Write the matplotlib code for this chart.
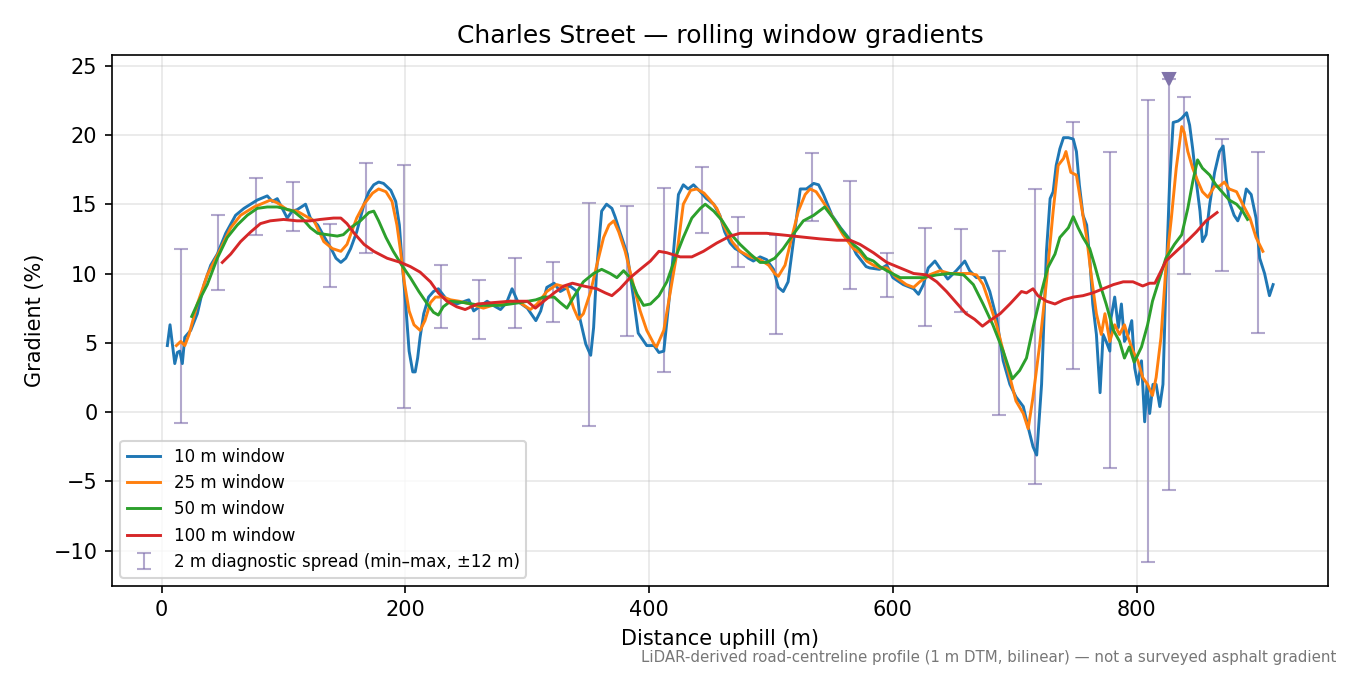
import numpy as np
import matplotlib
matplotlib.use('Agg')
import matplotlib.pyplot as plt

# distance uphill (m) and gradient (%)
d10 = [4.6, 6.8, 10.7, 12.8, 14.8, 16.9, 18.9, 23.8, 29.2, 34.7, 40.2, 45.6, 52.5, 60.6, 67.5, 72.9,
       78.4, 86.6, 90.7, 94.8, 98.9, 103, 107, 111, 118, 122, 128, 133, 139, 143, 147, 151, 155, 160,
       166, 170, 174, 178, 182, 188, 192, 195, 197, 200, 203, 206, 208, 210, 212, 215, 219, 223, 227,
       234, 242, 252, 256, 267, 272, 278, 283, 287.5, 292, 300, 307, 311, 316, 322, 327, 335, 341, 343,
       348, 352, 354.4, 357, 361, 365, 369.4, 372, 376, 382, 387, 391, 398, 404, 408, 412, 416, 420,
       424, 428, 432, 436.4, 442, 447, 453, 458, 462, 466.4, 470.5, 474.6, 481.4, 485.5, 491, 496.4,
       502, 506, 510, 514, 518, 524, 529, 535, 539, 543, 550, 557, 563.4, 570, 578, 581, 589, 595, 600,
       608.5, 617, 621, 625, 629, 634.5, 640, 645, 652, 659, 663, 668.6, 675, 679.5, 685, 690.5, 696,
       701, 707, 711, 715, 718, 722, 726, 729, 731.5, 734, 737, 740, 744, 748, 750.6, 753, 756, 759,
       761.5, 764, 767, 770, 772.5, 775, 778, 779, 782, 785, 787.5, 790, 793, 796, 798.4, 801, 804,
       806.6, 808.5, 810.7, 813.4, 816, 819, 821.6, 824, 827, 830, 834, 837, 841, 843.5, 846, 849, 852,
       854, 857, 860, 864, 868, 871, 873.5, 876, 880, 883, 887, 890, 894, 898, 901, 905, 909, 912]
g10 = [4.8, 6.3, 3.5, 4.3, 4.4, 3.5, 5.4, 5.9, 7.1, 9.2, 10.6, 11.4, 12.9, 14.2, 14.7, 15.0,
       15.3, 15.6, 15.2, 15.4, 14.7, 14.0, 14.5, 14.6, 15.0, 14.0, 13.5, 12.7, 11.8, 11.1, 10.8, 11.1, 11.8, 13.0,
       15.0, 15.9, 16.4, 16.6, 16.5, 16.0, 15.2, 13.5, 11.1, 8.0, 4.4, 2.9, 2.9, 3.9, 5.4, 7.1, 8.3, 8.7, 8.9,
       8.1, 7.8, 8.1, 7.3, 8.0, 7.7, 7.4, 7.9, 8.9, 8.0, 7.5, 6.6, 7.3, 9.0, 9.3, 8.7, 9.1, 8.7, 6.8,
       4.9, 4.1, 6.1, 10.4, 14.5, 15.0, 14.7, 14.1, 13.0, 11.4, 8.3, 5.7, 4.8, 4.8, 4.3, 4.4, 7.8, 11.6,
       15.7, 16.4, 16.1, 16.4, 15.9, 15.4, 15.0, 14.2, 13.0, 12.2, 11.8, 11.6, 11.1, 10.9, 11.2, 11.0,
       10.3, 9.0, 8.7, 9.4, 12.1, 16.1, 16.1, 16.5, 16.4, 15.7, 14.2, 13.3, 12.6, 11.4, 10.5, 10.4, 10.3, 10.6, 9.7,
       9.2, 8.9, 8.5, 9.2, 10.4, 10.9, 10.2, 9.6, 10.2, 10.9, 10.2, 9.7, 9.7, 8.7, 6.8, 3.7, 2.0,
       1.1, 0.4, -1.1, -2.5, -3.1, 2.0, 11.6, 15.4, 15.9, 17.8, 19.0, 19.8, 19.8, 19.7, 18.8, 16.4, 14.2, 13.5,
       11.1, 7.8, 5.6, 1.4, 5.6, 5.1, 4.4, 6.8, 8.3, 6.1, 7.8, 5.1, 5.6, 6.6, 3.2, 2.0, 3.7,
       -0.7, 2.0, -0.1, 2.0, 2.0, 0.4, 2.0, 9.2, 16.4, 20.9, 21.0, 21.2, 21.6, 20.7, 19.0, 16.6, 14.5,
       12.3, 12.8, 15.0, 17.3, 18.8, 19.2, 16.9, 15.2, 14.2, 13.8, 14.7, 16.1, 15.7, 14.0, 11.1, 10.0, 8.4, 9.2]

d25 = [12, 15.6, 18.9, 22.4, 29.2, 37.4, 48.4, 56.6, 64.7, 75.7, 83.9, 89.3, 94.8, 103, 111, 119, 125,
       133, 140, 147, 152, 160, 166, 173, 178, 184, 189, 193, 196, 199, 203, 207, 212, 216, 220.5, 224.6,
       231, 237, 244, 253, 264, 275, 286, 294, 302.5, 308, 316, 324, 332.5, 338, 342, 346, 352, 357,
       362.6, 367, 371, 375, 380.3, 387, 392.6, 398, 404, 406, 412, 417, 423, 428, 434, 439, 445, 450,
       455.5, 461, 468, 474.6, 483, 491, 498, 503, 506, 511.5, 517, 522.4, 528, 532, 537, 544, 551, 559,
       567.5, 573, 578.4, 584, 589.3, 595, 603, 611, 617, 622, 630, 638.6, 647, 655, 663, 668.6, 674,
       679.5, 685, 690.5, 696, 701, 707, 711, 715, 720.5, 726, 731.5, 735.6, 740, 742, 746, 750.6, 755,
       759, 763, 767, 771, 774, 778, 782, 786, 790, 793, 797, 801, 805, 809, 813, 816, 820, 824, 828.5,
       832.5, 837, 839, 842, 846, 850, 854, 858.5, 864, 868, 872, 876, 882, 887, 893, 898, 903.6]
g25 = [4.8, 5.1, 4.8, 5.6, 7.8, 9.9, 11.8, 13.3, 14.2, 14.8, 15.1, 15.3, 15.1, 14.6, 14.5, 14.1, 13.8,
       12.3, 11.8, 11.6, 12.1, 14.0, 15.0, 15.8, 16.1, 15.9, 15.2, 13.5, 11.6, 9.4, 7.3, 6.3, 5.9, 6.6, 7.9, 8.3,
       8.3, 8.1, 8.0, 7.8, 7.5, 7.8, 8.0, 7.9, 7.4, 7.8, 8.7, 9.2, 9.0, 7.5, 6.7, 7.1, 8.7, 10.6,
       12.6, 13.5, 13.8, 13.0, 11.6, 9.2, 7.3, 5.9, 4.9, 4.7, 5.9, 8.5, 11.6, 15.0, 16.0, 16.1, 15.8, 15.3,
       14.7, 13.5, 12.3, 11.6, 11.2, 11.0, 10.6, 10.0, 9.8, 10.6, 12.6, 14.5, 15.7, 16.1, 15.9, 15.0, 14.0, 12.8,
       11.8, 11.5, 10.9, 10.6, 10.4, 10.4, 9.7, 9.2, 9.0, 9.4, 9.9, 10.2, 10.0, 10.0, 10.0, 9.9, 9.2,
       7.8, 6.3, 4.4, 2.5, 0.8, -0.1, -1.2, 1.1, 4.9, 9.4, 14.5, 17.8, 18.3, 18.8, 17.3, 17.1, 14.7,
       12.6, 9.7, 7.1, 5.6, 7.1, 5.1, 6.3, 5.6, 6.3, 5.4, 4.4, 3.7, 2.5, 2.0, 1.2, 2.5, 5.4, 10.4, 14.0,
       17.6, 20.6, 20.2, 18.8, 17.6, 16.7, 15.9, 15.5, 16.3, 16.3, 16.6, 16.1, 15.9, 15.0, 14.0, 12.6, 11.6]

d50 = [24.6, 29.2, 37.4, 45.6, 53.8, 62, 70.2, 78.4, 86.6, 94.8, 100, 108, 115, 122, 128, 136, 144,
       149, 155, 163, 170, 174, 178, 184, 190, 197, 204, 211, 218, 223, 227, 231, 237, 248, 261.5, 278,
       294, 307, 313.4, 322, 327, 332.5, 338, 346, 354.4, 361, 368, 373.5, 379, 384.4, 390, 395.4, 401,
       408, 414.5, 421.3, 428, 435, 442, 446, 453, 460, 466.4, 474.6, 483, 491, 496.4, 503, 510, 518,
       526.5, 535, 544, 551, 559, 567.5, 573, 578.4, 584, 589.3, 595, 606, 614, 625, 636, 647, 658, 666,
       674, 682, 690.5, 698, 704, 709.6, 715, 722, 727, 733, 737, 741, 744, 748, 752, 756, 761.5, 765.6,
       770, 775, 781, 786, 790, 794, 798, 804, 809, 813, 819, 824, 831, 837, 842, 846, 850, 854, 860,
       865, 871, 876, 882, 887, 891]
g50 = [6.9, 7.8, 9.2, 11.1, 12.6, 13.5, 14.2, 14.7, 14.8, 14.8, 14.7, 14.5, 14.0, 13.3, 12.9, 12.8, 12.7,
       12.8, 13.3, 13.8, 14.4, 14.5, 13.8, 12.6, 11.6, 10.6, 9.7, 8.7, 7.8, 7.2, 7.0, 7.6, 8.0, 7.9, 7.7, 7.7,
       7.9, 8.1, 8.3, 8.3, 7.9, 7.5, 8.3, 9.4, 10.0, 10.3, 10.0, 9.7, 10.2, 9.7, 8.5, 7.7, 7.8,
       8.4, 9.4, 11.1, 12.6, 14.0, 14.7, 15.0, 14.5, 13.8, 12.9, 12.1, 11.4, 10.8, 10.8, 11.1, 11.8, 12.8,
       13.8, 14.2, 14.8, 14.0, 13.0, 12.1, 11.7, 11.1, 10.9, 10.5, 10.2, 9.7, 9.7, 9.7, 9.9, 10.0, 9.9, 9.2,
       7.8, 6.3, 4.4, 2.4, 3.0, 3.9, 6.1, 8.7, 10.4, 11.4, 12.6, 13.0, 13.3, 14.1, 13.3, 12.6, 11.8, 10.6,
       9.2, 7.8, 5.9, 5.1, 3.9, 4.7, 3.6, 4.7, 6.3, 8.0, 9.7, 11.1, 12.1, 12.8, 14.7, 16.6, 18.2, 17.6, 17.1,
       16.4, 15.8, 15.3, 15.0, 14.5, 13.9]

d100 = [49.7, 56.6, 64.7, 73, 81, 89, 100, 111, 122, 130, 141, 147, 152, 158, 166, 174, 185, 196, 204,
        212, 220.5, 227, 234, 242, 249, 259, 272, 286, 300, 306.6, 313.4, 322, 330, 337, 346, 357, 364,
        369.4, 376, 384.4, 392.6, 401, 408, 414.5, 425.4, 435, 444.5, 455.5, 466.4, 474.6, 485.5, 496.4,
        507.4, 518.3, 529, 540, 554, 565, 573, 584, 595, 606, 617, 627.6, 636, 644, 652, 660, 667, 673.5,
        679.5, 688, 696, 705.5, 709.6, 715, 719, 726, 733, 740, 748, 756, 764, 772.5, 781, 789, 797, 805,
        810.7, 815, 819, 824, 832.5, 841, 849, 857, 866]
g100 = [10.8, 11.4, 12.3, 13.0, 13.6, 13.8, 13.9, 13.8, 13.8, 13.9, 14.0, 14.0, 13.6, 12.9, 12.1, 11.6, 11.1, 10.8, 10.5,
        10.1, 9.4, 8.6, 8.0, 7.6, 7.4, 7.8, 7.9, 8.0, 8.0, 7.5, 8.0, 8.6, 9.1, 9.3, 9.1, 8.9, 8.6,
        8.4, 8.9, 9.7, 10.3, 10.9, 11.6, 11.5, 11.2, 11.2, 11.6, 12.2, 12.7, 12.9, 12.9, 12.9,
        12.8, 12.7, 12.6, 12.5, 12.4, 12.4, 12.1, 11.5, 10.8, 10.4, 10.0, 9.9, 9.4, 8.7, 7.9, 7.1, 6.7, 6.2,
        6.6, 7.1, 7.8, 8.7, 8.6, 8.9, 8.4, 8.0, 7.8, 8.1, 8.3, 8.4, 8.6, 8.9, 9.2, 9.4, 9.4, 9.1,
        9.3, 9.3, 10.0, 10.9, 11.6, 12.3, 13.0, 13.8, 14.4]

# 2 m diagnostic spread: min and max within +-12 m
spread_d = [16, 46, 77, 108, 138, 168, 199, 229, 260, 290, 321, 351, 382, 412, 443, 473, 504, 534,
            565, 595, 626, 656, 687, 717, 748, 778, 809, 826.5, 839, 870, 900]
spread_lo = [-0.8, 8.8, 12.8, 13.1, 9.0, 11.5, 0.3, 6.1, 5.3, 6.1, 6.5, -1.0, 5.5, 2.9, 12.9, 10.5, 5.6, 13.8,
             8.9, 8.3, 6.2, 7.2, -0.2, -5.2, 3.1, -4.0, -10.8, -5.6, 10.0, 10.2, 5.7]
spread_hi = [11.8, 14.2, 16.9, 16.6, 13.6, 18.0, 17.8, 10.6, 9.5, 11.1, 10.8, 15.1, 14.9, 16.2, 17.7, 14.1, 12.8, 18.7,
             16.7, 11.5, 13.3, 13.2, 11.6, 16.1, 20.9, 18.8, 22.5, 24.0, 22.7, 19.7, 18.8]
# spread clipped at the top of the plot
clip_d = [826.5]
clip_g = [24.0]

fig, ax = plt.subplots(figsize=(9, 4.5), dpi=150)

ax.plot(d10, g10, c='tab:blue', lw=1.4, label='10 m window', zorder=3)
ax.plot(d25, g25, c='tab:orange', lw=1.4, label='25 m window', zorder=3)
ax.plot(d50, g50, c='tab:green', lw=1.4, label='50 m window', zorder=3)
ax.plot(d100, g100, c='tab:red', lw=1.4, label='100 m window', zorder=3)

lo = np.array(spread_lo)
hi = np.array(spread_hi)
mid = (lo + hi) / 2
ax.errorbar(spread_d, mid, yerr=[mid - lo, hi - mid], fmt='none', ecolor='#7f6fac', alpha=0.6,
            elinewidth=1.0, capsize=3.5, capthick=1.0, zorder=1,
            label='2 m diagnostic spread (min–max, ±12 m)')
ax.plot(clip_d, clip_g, 'v', c='#8073aa', ms=6, zorder=4)

ax.set_title('Charles Street — rolling window gradients')
ax.set_xlabel('Distance uphill (m)')
ax.set_ylabel('Gradient (%)')
ax.grid(True, alpha=0.3)
ax.legend(loc='lower left', fontsize=8)

fig.text(0.99, 0.015, 'LiDAR-derived road-centreline profile (1 m DTM, bilinear) — not a surveyed asphalt gradient',
         ha='right', va='bottom', fontsize=7.2, color='#777777')

fig.subplots_adjust(left=0.083, right=0.984, top=0.918, bottom=0.132)
fig.savefig('out.png')
